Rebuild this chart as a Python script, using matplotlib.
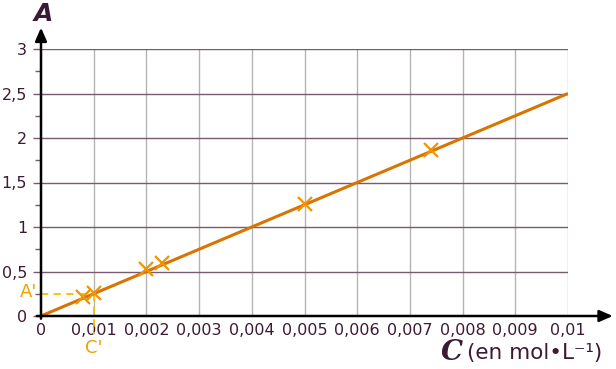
import matplotlib
matplotlib.use("Agg")
import matplotlib.pyplot as plt
import numpy as np

# Data
conc = [0.0008, 0.001, 0.002, 0.0023, 0.005, 0.0074]
absorb = [0.21, 0.26, 0.53, 0.60, 1.26, 1.865]
line_x = [0.0, 0.01]
line_y = [0.0, 2.5]
x_ticks = [0, 0.001, 0.002, 0.003, 0.004, 0.005, 0.006, 0.007, 0.008, 0.009, 0.01]
x_labels = ["0", "0,001", "0,002", "0,003", "0,004", "0,005", "0,006", "0,007", "0,008", "0,009", "0,01"]
y_ticks = [0, 0.5, 1, 1.5, 2, 2.5, 3]
y_labels = ["0", "0,5", "1", "1,5", "2", "2,5", "3"]
c_prime = 0.001
a_prime = 0.25

W, H = 616, 369
fig = plt.figure(figsize=(W / 100, H / 100), dpi=100)
x0, x1, y0, y1 = 41, 568, 316, 49
ax = fig.add_axes([x0 / W, (H - y0) / H, (x1 - x0) / W, (y0 - y1) / H])
ax.set_xlim(0, 0.01)
ax.set_ylim(0, 3)

txt = "#3d1a33"
hgrid = "#7a5a70"
for s in ax.spines.values():
    s.set_visible(False)

# grid
for xv in x_ticks[1:]:
    ax.axvline(xv, color="#b4b4b4", lw=1.0, zorder=1)
for yv in y_ticks[1:]:
    ax.axhline(yv, color=hgrid, lw=1.0, zorder=1)

ax.set_xticks(x_ticks)
ax.set_xticklabels(x_labels)
ax.set_yticks(y_ticks)
ax.set_yticklabels(y_labels)
ax.set_yticks(np.arange(0.25, 3, 0.5), minor=True)
ax.tick_params(axis="x", length=0, pad=5, labelsize=11.5, labelcolor=txt)
ax.tick_params(axis="y", which="major", length=6, width=1, color=hgrid, pad=4, labelsize=11.5, labelcolor=txt)
ax.tick_params(axis="y", which="minor", length=4, width=1, color=hgrid)

# axes arrows
ax.annotate("", xy=(1.085, 0), xytext=(-0.008, 0), xycoords="axes fraction",
            arrowprops=dict(arrowstyle="-|>,head_length=0.8,head_width=0.35", color="black", lw=1.8,
                            shrinkA=0, shrinkB=0), annotation_clip=False, zorder=5)
ax.annotate("", xy=(0, 1.08), xytext=(0, -0.01), xycoords="axes fraction",
            arrowprops=dict(arrowstyle="-|>,head_length=0.8,head_width=0.35", color="black", lw=1.8,
                            shrinkA=0, shrinkB=0), annotation_clip=False, zorder=5)

# dashed guides
ax.plot([0, c_prime], [a_prime, a_prime], ls=(0, (4, 3)), color="#f5c000", lw=1.3, zorder=3)
ax.plot([c_prime, c_prime], [a_prime, -0.2], ls=(0, (4, 3)), color="#f5c000", lw=1.3, zorder=3, clip_on=False)

# line and points
ax.plot(line_x, line_y, color="#d97400", lw=2.2, zorder=4, solid_capstyle="butt")
ax.plot(conc, absorb, ls="none", marker="x", ms=10, mew=1.6, color="#f29400", zorder=6)

# labels
fig.text(43 / W, 1 - 14 / H, "A", fontsize=18, fontweight="heavy", fontstyle="italic",
         color=txt, ha="center", va="center", family="DejaVu Sans")
fig.text(463 / W, 1 - 353 / H, "C", fontsize=20, fontweight="bold", fontstyle="italic",
         color=txt, ha="right", va="center", family="DejaVu Serif")
fig.text(467 / W, 1 - 353 / H, "(en mol\u2022L\u207b\u00b9)", fontsize=15.5,
         color=txt, ha="left", va="center", family="DejaVu Sans")
fig.text(37 / W, 1 - 292 / H, "A'", fontsize=13, color="#f0a000", ha="right", va="center")
fig.text(94 / W, 1 - 348 / H, "C'", fontsize=13, color="#f0a000", ha="center", va="center")

fig.savefig("out.png", dpi=100)
